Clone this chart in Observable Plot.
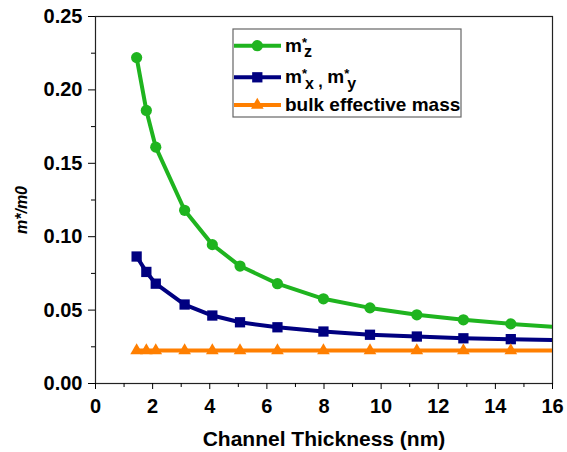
<!DOCTYPE html>
<html><head><meta charset="utf-8">
<script src="https://cdn.jsdelivr.net/npm/d3@7"></script>
<script src="https://cdn.jsdelivr.net/npm/@observablehq/plot@0.6"></script>
<style>body{margin:0;background:#fff} svg{display:block}</style>
</head><body><div id="chart"></div>
<script>
// Data
const thickness = [1.44, 1.78, 2.11, 3.12, 4.09, 5.06, 6.37, 7.98, 9.61, 11.25, 12.88, 14.54, 16.17];
const mz   = [0.222, 0.186, 0.161, 0.118, 0.0946, 0.080, 0.068, 0.0577, 0.0515, 0.0468, 0.0434, 0.0406, 0.0384];
const mxy  = [0.0865, 0.076, 0.068, 0.0538, 0.0463, 0.0417, 0.0383, 0.0354, 0.0332, 0.0320, 0.0308, 0.0302, 0.0296];
const bulk = [0.0225, 0.0225, 0.0225, 0.0225, 0.0225, 0.0225, 0.0225, 0.0225, 0.0225, 0.0225, 0.0225, 0.0225, 0.0225];
const seriesNames = ["m*z", "m*x , m*y", "bulk effective mass"];
const seriesColors = ["#1fb41f", "#000080", "#ff7f00"];
const xTicks = [0, 2, 4, 6, 8, 10, 12, 14, 16];
const xMinor = [1, 3, 5, 7, 9, 11, 13, 15];
const yTicks = [0, 0.05, 0.10, 0.15, 0.20, 0.25];
const yMinor = [0.025, 0.075, 0.125, 0.175, 0.225];
const xLabel = "Channel Thickness (nm)";
const yLabel = "m*/m0";

const series = [mz, mxy, bulk];
const symbols = ["circle", "square", "triangle"];
const radii = [5.6, 5.8, 4.7];
const tables = series.map((vals, k) => thickness.map((t, i) => ({t, v: vals[i], s: seriesNames[k]})));
const FONT = "'Liberation Sans', Arial, sans-serif";

const marks = [
  Plot.frame({stroke: "#222", strokeWidth: 1.2}),
  Plot.axisX(xTicks, {tickSize: 6, tickPadding: 9, tickFormat: d => String(d), label: null, stroke: "#000"}),
  Plot.axisX(xMinor, {tickSize: 4, tickFormat: () => "", label: null, stroke: "#000"}),
  Plot.axisY(yTicks, {tickSize: 7, tickPadding: 6, tickFormat: d3.format(".2f"), label: null, stroke: "#000"}),
  Plot.axisY(yMinor, {tickSize: 4, tickFormat: () => "", label: null, stroke: "#000"}),
  Plot.text([xLabel], {frameAnchor: "bottom", dy: 56, text: d => d, lineAnchor: "middle", fontSize: 21})
];
tables.forEach((tb, k) => {
  marks.push(Plot.line(tb, {x: "t", y: "v", stroke: seriesColors[k], strokeWidth: 4, clip: true}));
});
tables.forEach((tb, k) => {
  marks.push(Plot.dot(tb.filter(d => d.t <= 16), {x: "t", y: "v", fill: seriesColors[k], symbol: symbols[k], r: radii[k], stroke: "none"}));
});

const svg = Plot.plot({
  width: 567, height: 452,
  marginLeft: 95, marginRight: 15, marginTop: 16, marginBottom: 69,
  style: {fontFamily: FONT, fontSize: "20px", fontWeight: "bold", background: "#fff", color: "#000"},
  x: {domain: [0, 16]},
  y: {domain: [0, 0.25]},
  marks
});
document.getElementById("chart").appendChild(svg);

const g = d3.select(svg).append("g").attr("font-family", FONT).attr("font-weight", "bold");

// Y axis title
g.append("text").attr("transform", "translate(23,210) rotate(-90)")
  .attr("text-anchor", "middle").attr("dominant-baseline", "middle")
  .attr("font-size", 16).attr("font-style", "italic").attr("fill", "#000").text(yLabel);

// Legend inside the plot area
g.append("rect").attr("x", 233).attr("y", 29).attr("width", 228).attr("height", 88)
  .attr("fill", "#fff").attr("stroke", "#666").attr("stroke-width", 1.2);
const rowY = [45.7, 77.3, 105];
const d3sym = [d3.symbolCircle, d3.symbolSquare, d3.symbolTriangle];
rowY.forEach((y, k) => {
  g.append("line").attr("x1", 234).attr("x2", 281).attr("y1", y).attr("y2", y)
    .attr("stroke", seriesColors[k]).attr("stroke-width", 4);
  g.append("path").attr("d", d3.symbol(d3sym[k], Math.PI * radii[k] * radii[k])())
    .attr("transform", `translate(257.3,${y})`).attr("fill", seriesColors[k]);
});
function label(y, parts) {
  const t = g.append("text").attr("x", 285).attr("y", y + 6).attr("text-anchor", "start")
    .attr("font-size", 19).attr("fill", "#000");
  parts.forEach(p => {
    const s = t.append("tspan").text(p.t).attr("y", y + 6 + (p.dy || 0)).attr("font-size", p.fs || 19);
    if (p.dx) s.attr("dx", p.dx);
  });
}
label(rowY[0], [{t: "m"}, {t: "*", fs: 13, dy: -5}, {t: "z", fs: 16, dx: -3, dy: 5.6}]);
label(rowY[1], [{t: "m"}, {t: "*", fs: 13, dy: -5}, {t: "x", fs: 16, dx: -2, dy: 5.5}, {t: " , ", fs: 16, dy: 4},
  {t: "m"}, {t: "*", fs: 13, dy: -5}, {t: "y", fs: 16, dx: -2, dy: 5.5}]);
label(rowY[2], [{t: "bulk effective mass"}]);
</script>
</body></html>
